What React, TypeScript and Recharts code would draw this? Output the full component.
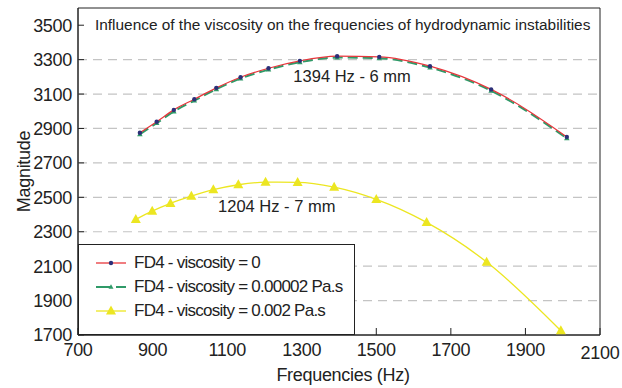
import React from "react";
import {
  Line,
  LineChart,
  ReferenceArea,
  ReferenceDot,
  ReferenceLine,
  XAxis,
  YAxis,
  Label,
} from "recharts";

// FD4, viscosity = 0 and 0.00002 Pa.s share the same frequencies
const freqLowVisc = [866, 911, 957, 1012, 1071, 1136, 1211, 1295, 1395, 1508, 1644, 1808, 2011];
const magViscZero = [2875, 2939, 3008, 3070, 3136, 3198, 3250, 3293, 3320, 3316, 3262, 3127, 2851];
const magVisc2e5 = [2867, 2931, 2999, 3062, 3128, 3190, 3242, 3285, 3312, 3308, 3254, 3119, 2843];

// FD4, viscosity = 0.002 Pa.s
const freqHighVisc = [855, 899, 948, 1004, 1063, 1130, 1203, 1289, 1387, 1500, 1635, 1796, 1995];
const magVisc2e3 = [2372, 2420, 2465, 2507, 2544, 2573, 2588, 2587, 2559, 2488, 2354, 2124, 1725];

const xTicks = [700, 900, 1100, 1300, 1500, 1700, 1900, 2100];
const yTicks = [1700, 1900, 2100, 2300, 2500, 2700, 2900, 3100, 3300, 3500];
const gridLines = [1900, 2100, 2300, 2500, 2700, 2900, 3100, 3300];

const title = "Influence of the viscosity on the frequencies of hydrodynamic instabilities";
const labels = ["FD4 - viscosity = 0", "FD4 - viscosity = 0.00002 Pa.s", "FD4 - viscosity = 0.002 Pa.s"];

const RED = "#e8363c";
const NAVY = "#2c2f78";
const GREEN = "#2f9a68";
const YELLOW = "#ece621";
const INK = "#222";
const FONT = "'Liberation Sans', Arial, Helvetica, sans-serif";

const zip = (f: number[], m: number[]) => f.map((x, i) => ({ f: x, m: m[i] }));
const seriesZero = zip(freqLowVisc, magViscZero);
const seriesLow = zip(freqLowVisc, magVisc2e5);
const seriesHigh = zip(freqHighVisc, magVisc2e3);

function tri(cx: number, cy: number, s: number) {
  const h = s * 0.9;
  return `${cx},${cy - h * 0.6} ${cx - s / 2},${cy + h * 0.4} ${cx + s / 2},${cy + h * 0.4}`;
}

const YTick = (props: any) => {
  const { x, y, payload } = props;
  return (
    <g>
      <line x1={x + 6} x2={x + 12} y1={y} y2={y} stroke={INK} />
      <text x={x} y={y} dy="0.36em" textAnchor="end" fill={INK} fontSize={18} fontFamily={FONT} letterSpacing={-0.3}>
        {payload.value}
      </text>
    </g>
  );
};

const XTick = (props: any) => {
  const { x, y, payload } = props;
  const last = payload.value === 2100;
  return (
    <g>
      <line x1={x} x2={x} y1={y - 7} y2={y} stroke={INK} />
      <text x={x} y={y + (last ? 24 : 21)} textAnchor="middle" fill={INK} fontSize={18} fontFamily={FONT} letterSpacing={-0.3}>
        {payload.value}
      </text>
    </g>
  );
};

function LegendSample({ i }: { i: number }) {
  if (i === 0)
    return (
      <svg width={30} height={14}>
        <line x1={0} x2={30} y1={7} y2={7} stroke={RED} strokeWidth={1.3} />
        <circle cx={15} cy={7} r={2.2} fill={NAVY} />
      </svg>
    );
  if (i === 1)
    return (
      <svg width={30} height={14}>
        <line x1={0} x2={30} y1={7} y2={7} stroke={GREEN} strokeWidth={2} strokeDasharray="14 6" />
        <polygon points={tri(15, 7, 5)} fill={GREEN} />
      </svg>
    );
  return (
    <svg width={30} height={14}>
      <line x1={0} x2={30} y1={7} y2={7} stroke={YELLOW} strokeWidth={1.3} />
      <polygon points={tri(15, 7, 10)} fill={YELLOW} />
    </svg>
  );
}

export default function App() {
  return (
    <div style={{ position: "fixed", left: 0, top: 0, width: 622, height: 388, background: "#fff" }}>
      <LineChart width={622} height={388} margin={{ top: 8, right: 22, bottom: 23, left: 18 }}>
        <XAxis
          dataKey="f"
          type="number"
          domain={[700, 2100]}
          ticks={xTicks}
          allowDataOverflow
          axisLine={{ stroke: INK }}
          tickLine={false}
          tickSize={0}
          tickMargin={0}
          height={30}
          tick={<XTick />}
        >
          <Label
            content={({ viewBox }: any) => (
              <text x={viewBox.x + viewBox.width / 2 + 4} y={viewBox.y + 46} textAnchor="middle" fill={INK} fontSize={18} fontFamily={FONT} letterSpacing={-0.3}>
                Frequencies (Hz)
              </text>
            )}
          />
        </XAxis>
        <YAxis
          type="number"
          domain={[1700, 3600]}
          ticks={yTicks}
          allowDataOverflow
          axisLine={{ stroke: INK }}
          tickLine={false}
          tickSize={0}
          tickMargin={6}
          width={60}
          tick={<YTick />}
        >
          <Label
            content={({ viewBox }: any) => {
              const cx = viewBox.x + 6;
              const cy = viewBox.y + viewBox.height / 2;
              return (
                <text x={cx} y={cy} transform={`rotate(-90 ${cx} ${cy})`} textAnchor="middle" dominantBaseline="central" fill={INK} fontSize={18} fontFamily={FONT} letterSpacing={-0.3}>
                  Magnitude
                </text>
              );
            }}
          />
        </YAxis>
        {gridLines.map((v) => (
          <ReferenceLine key={v} y={v} stroke="#c4c4c4" strokeWidth={1.2} strokeDasharray="9 6" />
        ))}
        <ReferenceArea x1={700} x2={2100} y1={1700} y2={3600} fill="none" stroke={INK} strokeWidth={1} />
        <Line
          data={seriesHigh}
          dataKey="m"
          type="monotone"
          stroke={YELLOW}
          strokeWidth={1.3}
          isAnimationActive={false}
          dot={(p: any) => <polygon key={`y${p.index}`} points={tri(p.cx, p.cy, 10)} fill={YELLOW} />}
        />
        <Line
          data={seriesLow}
          dataKey="m"
          type="monotone"
          stroke={GREEN}
          strokeWidth={2}
          strokeDasharray="10 5"
          isAnimationActive={false}
          dot={(p: any) => <polygon key={`g${p.index}`} points={tri(p.cx, p.cy, 5.5)} fill={GREEN} />}
        />
        <Line
          data={seriesZero}
          dataKey="m"
          type="monotone"
          stroke={RED}
          strokeWidth={1.2}
          isAnimationActive={false}
          dot={(p: any) => <circle key={`r${p.index}`} cx={p.cx} cy={p.cy} r={2.2} fill={NAVY} />}
        />
        <ReferenceDot
          x={1435}
          y={3206}
          r={0}
          label={{ value: "1394 Hz - 6 mm", position: "center", fill: INK, fontSize: 16.5, fontFamily: FONT } as any}
        />
        <ReferenceDot
          x={1233}
          y={2451}
          r={0}
          label={{ value: "1204 Hz - 7 mm", position: "center", fill: INK, fontSize: 16.5, fontFamily: FONT } as any}
        />
      </LineChart>
      <div
        style={{
          position: "absolute",
          left: 95,
          top: 15,
          fontFamily: FONT,
          fontSize: 15.4,
          color: INK,
          whiteSpace: "nowrap",
          lineHeight: "20px",
        }}
      >
        {title}
      </div>
      <div
        style={{
          position: "absolute",
          left: 78,
          top: 244,
          width: 277,
          height: 91,
          boxSizing: "border-box",
          border: `1px solid ${INK}`,
          background: "#fff",
          padding: "6px 0 0 17px",
          fontFamily: FONT,
          fontSize: 17,
          letterSpacing: -0.75,
          color: INK,
        }}
      >
        {labels.map((t, i) => (
          <div key={t} style={{ display: "flex", alignItems: "center", height: 24, whiteSpace: "nowrap" }}>
            <LegendSample i={i} />
            <span style={{ marginLeft: 8 }}>{t}</span>
          </div>
        ))}
      </div>
    </div>
  );
}
